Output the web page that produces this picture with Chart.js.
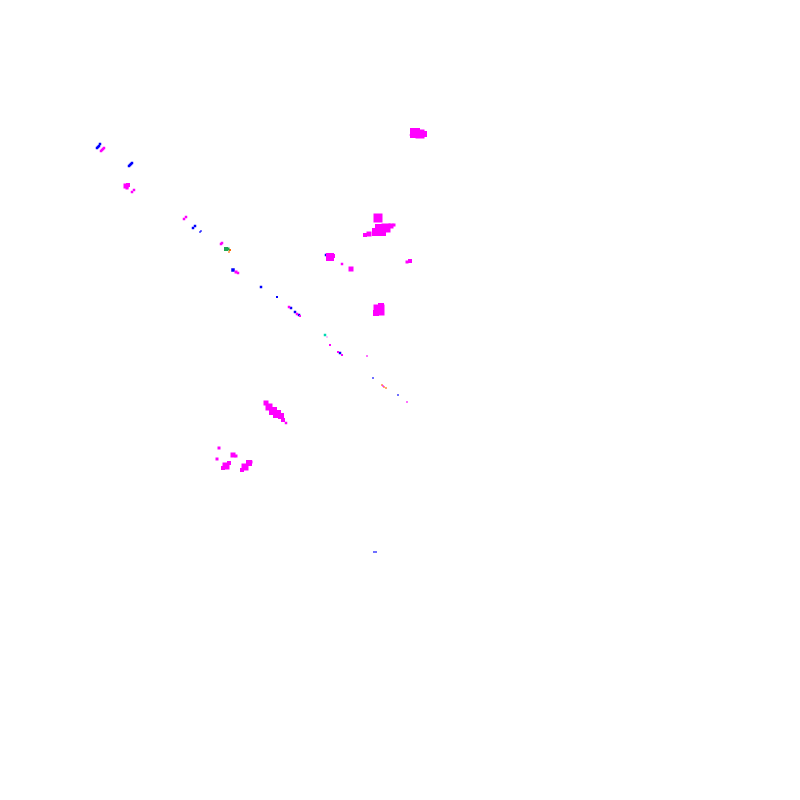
<!DOCTYPE html>
<html>
<head>
<meta charset="utf-8">
<script src="https://cdn.jsdelivr.net/npm/chart.js@4"></script>
<style>
html,body{margin:0;padding:0;background:#ffffff;}
#c{display:block;}
</style>
</head>
<body>
<canvas id="c" width="800" height="800"></canvas>
<script>
// Data (x, y and blob side length per point)
const magentaX = [101,102,103,104,126,128,127,132,134,184,186,221,222,236,238,289,297,300,327,330,338,342,367,383,407,
  415,420,424,410,412,378,380,386,382,376,369,365,391,394,330,333,342,351,410,407,379,381,376,
  266,269,273,277,281,283,286,219,217,233,236,226,229,223,245,249,242,251];
const magentaY = [151,150,149,148,186,185,188,192,190,219,217,244,243,272,273,307,314,316,337,345,352,355,356,386,402,
  133,134,134,135,135,218,229,228,232,232,234,235,226,225,257,256,264,269,261,262,310,306,313,
  403,407,411,414,416,420,423,448,459,455,456,466,463,468,467,463,470,462];
const magentaS = [2.5,2.5,2.5,2.5,5,4,3,2.5,2.5,2.5,2.5,2.5,2.5,3,2.5,2.5,2.5,2,1,2,2,2,1.5,1.5,1.5,
  10,9,6,1,1,9,10,9,8,8,5,4,5,3,8,4,2.5,5,4,3,11,6,6,
  5,7,8,8,6,4,2.5,3,3,5,3,7,4,4,7,6,4,3];

const blueX = [97,98,99,100,129,130,131,132,193,195,200,201,233,261,277,291,295,299,340,373,398,374,376,326,127];
const blueY = [148,147,146,144,166,165,164,163,228,226,232,231,270,287,297,308,312,315,353,378,395,552,552,255,188];
const blueS = [2.5,2.5,2.5,2.5,2.5,2.5,2.5,2.5,2.5,2.5,1.5,1.5,3.5,2.5,2,2.5,2.5,2.5,2.5,1.5,1.5,1.5,1.5,2.5,1.5];

const greenX = [226,228];
const greenY = [249,249];
const greenS = [4,3];

const orangeX = [230,229,382,384,386];
const orangeY = [250,252,385,387,388];
const orangeS = [2,1.5,1.5,1.5,1.5];

const cyanX = [325];
const cyanY = [335];
const cyanS = [2.5];

function pts(xs, ys){ return xs.map((x,i)=>({x:x, y:ys[i]})); }
function radii(s){ return s.map(v=>v/Math.SQRT2); }
function ds(xs, ys, s, color){
  return {
    data: pts(xs, ys),
    pointStyle: 'rect',
    pointRadius: radii(s),
    pointHoverRadius: radii(s),
    pointBackgroundColor: color,
    pointBorderWidth: 0,
    borderWidth: 0,
    showLine: false
  };
}

new Chart(document.getElementById('c'), {
  type: 'scatter',
  data: {
    datasets: [
      ds(magentaX, magentaY, magentaS, '#ff00ff'),
      ds(blueX, blueY, blueS, '#0000ff'),
      ds(greenX, greenY, greenS, '#1fa84f'),
      ds(orangeX, orangeY, orangeS, '#ff6a00'),
      ds(cyanX, cyanY, cyanS, '#00d8b0')
    ]
  },
  options: {
    responsive: false,
    animation: false,
    devicePixelRatio: 1,
    layout: { padding: 0, autoPadding: false },
    scales: {
      x: { type: 'linear', min: 0, max: 800, display: false },
      y: { type: 'linear', min: 0, max: 800, reverse: true, display: false }
    },
    plugins: { legend: { display: false }, tooltip: { enabled: false } }
  }
});
</script>
</body>
</html>
